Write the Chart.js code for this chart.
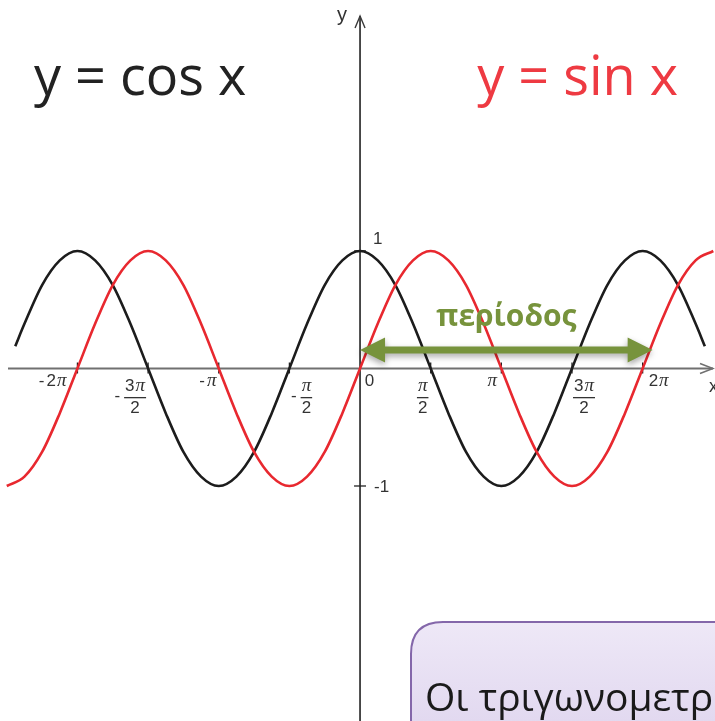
<!DOCTYPE html>
<html>
<head>
<meta charset="utf-8">
<script src="https://cdn.jsdelivr.net/npm/chart.js@4/dist/chart.umd.min.js"></script>
<style>
  html, body { margin: 0; padding: 0; background: #ffffff; overflow: hidden; }
  #wrap { width: 715px; height: 721px; }
</style>
</head>
<body>
<div id="wrap"><canvas id="c" width="715" height="721"></canvas></div>
<script>
// x values are in multiples of π
const sinX = [-2.5, -2.375, -2.25, -2.125, -2, -1.875, -1.75, -1.625, -1.5, -1.375, -1.25, -1.125,
              -1, -0.875, -0.75, -0.625, -0.5, -0.375, -0.25, -0.125, 0, 0.125, 0.25, 0.375,
              0.5, 0.625, 0.75, 0.875, 1, 1.125, 1.25, 1.375, 1.5, 1.625, 1.75, 1.875,
              2, 2.125, 2.25, 2.375, 2.5];
const sinY = [-1, -0.92, -0.71, -0.38, 0, 0.38, 0.71, 0.92, 1, 0.92, 0.71, 0.38,
              0, -0.38, -0.71, -0.92, -1, -0.92, -0.71, -0.38, 0, 0.38, 0.71, 0.92,
              1, 0.92, 0.71, 0.38, 0, -0.38, -0.71, -0.92, -1, -0.92, -0.71, -0.38,
              0, 0.38, 0.71, 0.92, 1];
const cosX = [-2.44, -2.375, -2.25, -2.125, -2, -1.875, -1.75, -1.625, -1.5, -1.375, -1.25, -1.125,
              -1, -0.875, -0.75, -0.625, -0.5, -0.375, -0.25, -0.125, 0, 0.125, 0.25, 0.375,
              0.5, 0.625, 0.75, 0.875, 1, 1.125, 1.25, 1.375, 1.5, 1.625, 1.75, 1.875,
              2, 2.125, 2.25, 2.375, 2.44];
const cosY = [0.19, 0.38, 0.71, 0.92, 1, 0.92, 0.71, 0.38, 0, -0.38, -0.71, -0.92,
              -1, -0.92, -0.71, -0.38, 0, 0.38, 0.71, 0.92, 1, 0.92, 0.71, 0.38,
              0, -0.38, -0.71, -0.92, -1, -0.92, -0.71, -0.38, 0, 0.38, 0.71, 0.92,
              1, 0.92, 0.71, 0.38, 0.19];

// axis ticks: [sign, numerator, denominator]; an empty denominator means a plain label
const xTickValues = [-2, -1.5, -1, -0.5, 0, 0.5, 1, 1.5, 2];
const xTickLabels = [['-', '2π', ''], ['-', '3π', '2'], ['-', 'π', ''], ['-', 'π', '2'], ['', '0', ''],
                     ['', 'π', '2'], ['', 'π', ''], ['', '3π', '2'], ['', '2π', '']];
const yTickValues = [1, -1];
const yTickLabels = ['1', '-1'];

const titleCos = 'y = cos x';
const titleSin = 'y = sin x';
const periodLabel = 'περίοδος';
const periodRange = [0, 2];
const noteText = 'Οι τριγωνομετρικές συναρτήσεις είναι περιοδικές';

const INK = '#1c1c1c';
const RED = '#e8282f';
const GREEN = '#77933c';

// horizontal placement of each x tick label relative to its tick
const labelShift = [-25, -13, -11, 17, 10, -8, -9, 12, 16];

const DIGIT_FONT = '17px "Liberation Sans"';
const PI_FONT = 'italic 19px "Liberation Serif"';

function drawPiText(ctx, str, cx, cy) {
  // digits in a sans face, π in an italic serif face, centred on cx
  const parts = [];
  for (const ch of str) {
    parts.push({ ch, font: ch === 'π' ? PI_FONT : DIGIT_FONT });
  }
  let total = 0;
  parts.forEach(p => { ctx.font = p.font; p.w = ctx.measureText(p.ch).width + (p.ch === 'π' ? 0 : 1); total += p.w; });
  let x = cx - total / 2;
  ctx.textAlign = 'left';
  ctx.textBaseline = 'middle';
  parts.forEach(p => { ctx.font = p.font; ctx.fillText(p.ch, x, cy); x += p.w; });
  return total;
}

const decor = {
  id: 'decor',
  beforeDatasetsDraw(chart) {
    const { ctx, scales: { x, y }, width, height } = chart;
    const x0 = x.getPixelForValue(0);
    const y0 = y.getPixelForValue(0);
    ctx.save();
    ctx.lineCap = 'butt';
    // x axis
    ctx.strokeStyle = '#707070';
    ctx.lineWidth = 2;
    ctx.beginPath();
    ctx.moveTo(8, y0);
    ctx.lineTo(width - 2, y0);
    ctx.stroke();
    ctx.lineWidth = 1.6;
    ctx.beginPath();
    ctx.moveTo(width - 15, y0 - 5);
    ctx.lineTo(width - 2, y0);
    ctx.lineTo(width - 15, y0 + 5);
    ctx.stroke();
    // y axis
    ctx.strokeStyle = '#3a3a3a';
    ctx.lineWidth = 1.8;
    ctx.beginPath();
    ctx.moveTo(x0, 16);
    ctx.lineTo(x0, height);
    ctx.stroke();
    ctx.lineWidth = 1.4;
    ctx.beginPath();
    ctx.moveTo(x0 - 5, 28);
    ctx.lineTo(x0, 16);
    ctx.lineTo(x0 + 5, 28);
    ctx.stroke();
    // tick marks
    ctx.strokeStyle = '#222';
    ctx.lineWidth = 1.3;
    xTickValues.forEach(v => {
      if (v === 0) return;
      const px = x.getPixelForValue(v);
      ctx.beginPath();
      ctx.moveTo(px, y0 - 6);
      ctx.lineTo(px, y0 + 5);
      ctx.stroke();
    });
    yTickValues.forEach(v => {
      const py = y.getPixelForValue(v);
      ctx.beginPath();
      ctx.moveTo(x0 - 6, py);
      ctx.lineTo(x0 + 6, py);
      ctx.stroke();
    });
    ctx.restore();
  },
  afterDatasetsDraw(chart) {
    const { ctx, scales: { x, y }, width } = chart;
    const x0 = x.getPixelForValue(0);
    const y0 = y.getPixelForValue(0);
    ctx.save();
    ctx.fillStyle = '#333';

    // x tick labels
    xTickValues.forEach((v, i) => {
      const [sign, num, den] = xTickLabels[i];
      const cx = x.getPixelForValue(v) + labelShift[i];
      if (!den) {
        const w = drawPiText(ctx, num, cx + (sign ? 4 : 0), y0 + 13);
        if (sign) {
          ctx.font = DIGIT_FONT;
          ctx.textAlign = 'right';
          ctx.fillText('-', cx + 4 - w / 2 - 2, y0 + 13);
        }
      } else {
        const w = drawPiText(ctx, num, cx, y0 + 18);
        ctx.font = DIGIT_FONT;
        ctx.textAlign = 'center';
        ctx.textBaseline = 'middle';
        ctx.fillText(den, cx, y0 + 40);
        ctx.fillRect(cx - w / 2 - 1, y0 + 28.5, w + 2, 1.3);
        if (sign) {
          ctx.textAlign = 'right';
          ctx.fillText('-', cx - w / 2 - 5, y0 + 28);
        }
      }
    });
    ctx.font = '18px "Liberation Sans"';
    ctx.textBaseline = 'middle';
    ctx.textAlign = 'left';
    ctx.fillText('x', width - 6, y0 + 19);

    // y tick labels
    ctx.font = DIGIT_FONT;
    ctx.textAlign = 'left';
    ctx.fillText(yTickLabels[0], x0 + 13, y.getPixelForValue(yTickValues[0]) - 12);
    ctx.fillText(yTickLabels[1], x0 + 14, y.getPixelForValue(yTickValues[1]) + 1);
    ctx.font = '20px "Liberation Sans"';
    ctx.textAlign = 'center';
    ctx.fillText('y', x0 - 18, 15);

    // titles
    ctx.textBaseline = 'alphabetic';
    ctx.textAlign = 'left';
    ctx.font = '54px "Open Sans"';
    ctx.fillStyle = '#222';
    ctx.fillText(titleCos, 34, 95);
    ctx.fillStyle = '#ee3a42';
    ctx.textAlign = 'right';
    ctx.fillText(titleSin, 678, 95);

    // period arrow
    const ax1 = x.getPixelForValue(periodRange[0]);
    const ax2 = x.getPixelForValue(periodRange[1]) + 10;
    const ay = 350;
    ctx.save();
    ctx.shadowColor = 'rgba(0,0,0,0.35)';
    ctx.shadowBlur = 6;
    ctx.shadowOffsetY = 3;
    ctx.fillStyle = GREEN;
    ctx.beginPath();
    ctx.moveTo(ax1, ay);
    ctx.lineTo(ax1 + 25, ay - 12.5);
    ctx.lineTo(ax1 + 25, ay - 3.5);
    ctx.lineTo(ax2 - 25, ay - 3.5);
    ctx.lineTo(ax2 - 25, ay - 12.5);
    ctx.lineTo(ax2, ay);
    ctx.lineTo(ax2 - 25, ay + 12.5);
    ctx.lineTo(ax2 - 25, ay + 3.5);
    ctx.lineTo(ax1 + 25, ay + 3.5);
    ctx.lineTo(ax1 + 25, ay + 12.5);
    ctx.closePath();
    ctx.fill();
    ctx.restore();
    ctx.fillStyle = GREEN;
    ctx.font = 'bold 30px "Open Sans"';
    ctx.textAlign = 'center';
    ctx.fillText(periodLabel, (ax1 + ax2) / 2, 326);

    // note box
    const bx = 411, by = 622, r = 32;
    ctx.beginPath();
    ctx.moveTo(bx, 760);
    ctx.lineTo(bx, by + r);
    ctx.quadraticCurveTo(bx, by, bx + r, by);
    ctx.lineTo(760, by);
    ctx.lineTo(760, 760);
    ctx.closePath();
    const g = ctx.createLinearGradient(0, by, 0, 721);
    g.addColorStop(0, '#eee8f7');
    g.addColorStop(1, '#e2d9f0');
    ctx.fillStyle = g;
    ctx.fill();
    ctx.strokeStyle = '#8467aa';
    ctx.lineWidth = 2;
    ctx.stroke();
    ctx.fillStyle = '#1a1a1a';
    ctx.font = '39px "Open Sans"';
    ctx.textAlign = 'left';
    ctx.fillText(noteText, 425, 711);
    ctx.restore();
  }
};

const toPoints = (xs, ys) => xs.map((v, i) => ({ x: v, y: ys[i] }));

new Chart(document.getElementById('c'), {
  type: 'scatter',
  data: {
    datasets: [
      {
        label: titleSin,
        data: toPoints(sinX, sinY),
        showLine: true,
        borderColor: RED,
        borderWidth: 2.6,
        pointRadius: 0,
        cubicInterpolationMode: 'monotone',
        fill: false
      },
      {
        label: titleCos,
        data: toPoints(cosX, cosY),
        showLine: true,
        borderColor: INK,
        borderWidth: 2.6,
        pointRadius: 0,
        cubicInterpolationMode: 'monotone',
        fill: false
      }
    ]
  },
  options: {
    responsive: false,
    animation: false,
    devicePixelRatio: 1,
    layout: { padding: 0 },
    plugins: { legend: { display: false }, tooltip: { enabled: false } },
    scales: {
      x: { type: 'linear', display: false, min: -2.548, max: 2.512 },
      y: { type: 'linear', display: false, min: -3.0, max: 3.136 }
    }
  },
  plugins: [decor]
});
</script>
</body>
</html>
